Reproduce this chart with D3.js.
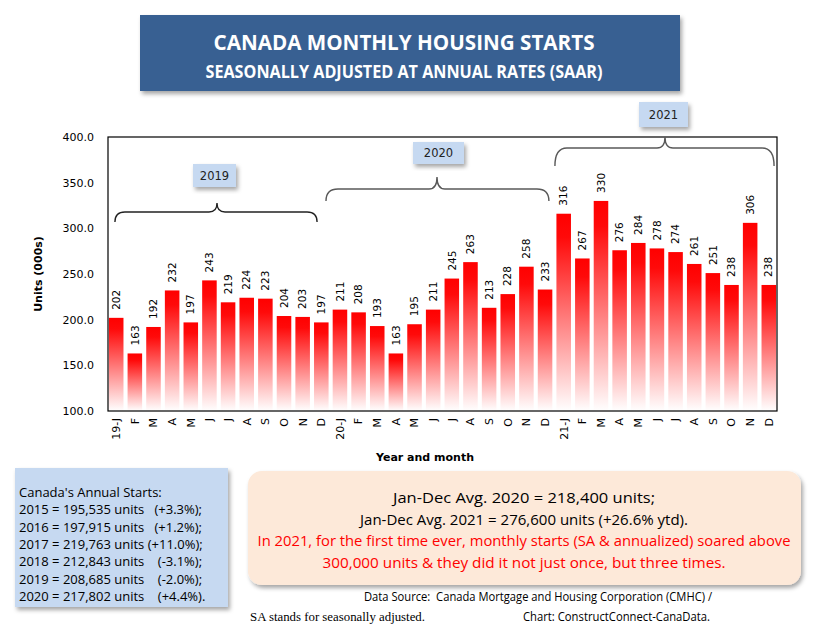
<!DOCTYPE html>
<html><head><meta charset="utf-8">
<script src="https://cdn.jsdelivr.net/npm/d3@7"></script>
<style>body{margin:0;background:#fff}svg{display:block}</style>
</head><body>
<svg id="c" width="819" height="636"></svg>
<script>
const months = ["19-J","F","M","A","M","J","J","A","S","O","N","D",
                "20-J","F","M","A","M","J","J","A","S","O","N","D",
                "21-J","F","M","A","M","J","J","A","S","O","N","D"];
const values = [202,163,192,232,197,243,219,224,223,204,203,197,
                211,208,193,163,195,211,245,263,213,228,258,233,
                316,267,330,276,284,278,274,261,251,238,306,238];
const yTicks = [100,150,200,250,300,350,400];
const years = ["2019","2020","2021"];
const yearFirst = [0,12,24];
const yearLast = [11,23,35];
const titleText = "CANADA MONTHLY HOUSING STARTS";
const subtitleText = "SEASONALLY ADJUSTED AT ANNUAL RATES (SAAR)";
const annualLines = ["Canada's Annual Starts:",
  "2015 = 195,535 units   (+3.3%);",
  "2016 = 197,915 units   (+1.2%);",
  "2017 = 219,763 units (+11.0%);",
  "2018 = 212,843 units    (-3.1%);",
  "2019 = 208,685 units    (-2.0%);",
  "2020 = 217,802 units    (+4.4%)."];
const noteBlack = ["Jan-Dec Avg. 2020 = 218,400 units;",
  "Jan-Dec Avg. 2021 = 276,600 units (+26.6% ytd)."];
const noteRed = ["In 2021, for the first time ever, monthly starts (SA & annualized) soared above",
  "300,000 units & they did it not just once, but three times."];

const svg = d3.select("#c");
const defs = svg.append("defs");
const sh = defs.append("filter").attr("id","sh").attr("x","-10%").attr("y","-10%").attr("width","130%").attr("height","140%");
sh.append("feDropShadow").attr("dx",2).attr("dy",3).attr("stdDeviation",2).attr("flood-color","#000").attr("flood-opacity",0.35);
const g = defs.append("linearGradient").attr("id","bg").attr("x1",0).attr("y1",0).attr("x2",0).attr("y2",1);
g.append("stop").attr("offset","0%").attr("stop-color","#ff0000");
g.append("stop").attr("offset","12%").attr("stop-color","#ff0a0a");
g.append("stop").attr("offset","100%").attr("stop-color","#ffffff");

const L=108,R=777,T=137,B=411;
const x = d3.scaleBand().domain(d3.range(months.length)).range([L,R]).paddingInner(0.22).paddingOuter(0.05);
const y = d3.scaleLinear().domain([100,400]).range([B,T]);
const chartFont = "'DejaVu Sans', Verdana, sans-serif";
const boxFont = "'Open Sans', 'Noto Sans', sans-serif";

// title
svg.append("rect").attr("x",140).attr("y",15).attr("width",540).attr("height",76).attr("fill","#376092").attr("filter","url(#sh)");
svg.append("text").attr("x",404).attr("y",50).attr("text-anchor","middle").attr("fill","#fff")
  .attr("font-family",boxFont).attr("font-weight","bold").attr("font-size",21)
  .attr("textLength",381).attr("lengthAdjust","spacingAndGlyphs").text(titleText);
svg.append("text").attr("x",404).attr("y",78).attr("text-anchor","middle").attr("fill","#fff")
  .attr("font-family",boxFont).attr("font-weight","bold").attr("font-size",17)
  .attr("textLength",397).attr("lengthAdjust","spacingAndGlyphs").text(subtitleText);

// bars
svg.append("g").selectAll("rect").data(values).join("rect")
  .attr("x",(d,i)=>x(i)).attr("y",d=>y(d)).attr("width",x.bandwidth()).attr("height",d=>y(100)-y(d))
  .attr("fill","url(#bg)");

// frame
svg.append("rect").attr("x",L).attr("y",T).attr("width",R-L).attr("height",B-T).attr("fill","none").attr("stroke","#000").attr("stroke-width",1.2);

// y axis
const ya = svg.append("g").attr("transform",`translate(${L},0)`)
  .call(d3.axisLeft(y).tickValues(yTicks).tickFormat(d3.format(".1f")).tickSize(0).tickPadding(14));
ya.select(".domain").remove();
ya.selectAll("text").attr("font-family",chartFont).attr("font-size",11).attr("fill","#000");

// x axis
const xa = svg.append("g").attr("transform",`translate(0,${B})`)
  .call(d3.axisBottom(x).tickFormat(i=>months[i]).tickSize(0));
xa.select(".domain").remove();
xa.selectAll("text").attr("font-family",chartFont).attr("font-size",11).attr("fill","#000")
  .attr("transform","rotate(-90)").attr("text-anchor","end").attr("x",-7).attr("y",0).attr("dy","0.35em");

// bar labels
svg.append("g").selectAll("text").data(values).join("text")
  .attr("transform",(d,i)=>`translate(${x(i)+x.bandwidth()/2},${y(d)-8}) rotate(-90)`)
  .attr("dy","0.35em").attr("font-family",chartFont).attr("font-size",10.5).attr("fill","#000")
  .text(d=>d);

// axis titles
svg.append("text").attr("transform","translate(38,274) rotate(-90)").attr("text-anchor","middle").attr("dy","0.35em")
  .attr("font-family",chartFont).attr("font-size",11).attr("font-weight","bold").text("Units (000s)");
svg.append("text").attr("x",425).attr("y",461).attr("text-anchor","middle")
  .attr("font-family",chartFont).attr("font-size",11).attr("font-weight","bold").text("Year and month");

// braces
const braceLayout = [
  {dl:6, dr:-11.5, tip:217, hy:212, by:222, ty:203, bx:193, bw:43, byTop:164, bh:23},
  {dl:-6.7, dr:-3.4, tip:437, hy:189, by:201, ty:177, bx:413, bw:51, byTop:142, bh:22},
  {dl:-1.5, dr:-2, tip:665, hy:148, by:166, ty:137, bx:639, bw:49, byTop:102, bh:25}
];
years.forEach((yr,k)=>{
  const b = braceLayout[k];
  const x1 = x(yearFirst[k])+b.dl, x2 = x(yearLast[k])+x.bandwidth()+b.dr;
  const r = Math.min(12,(b.by-b.hy));
  const r2 = 8;
  const p = `M${x1},${b.by} Q${x1},${b.hy} ${x1+r},${b.hy} L${b.tip-r2},${b.hy} Q${b.tip},${b.hy} ${b.tip},${b.ty} Q${b.tip},${b.hy} ${b.tip+r2},${b.hy} L${x2-r},${b.hy} Q${x2},${b.hy} ${x2},${b.by}`;
  svg.append("path").attr("d",p).attr("fill","none").attr("stroke",k==0?"#222":"#595959").attr("stroke-width",1.4);
  svg.append("rect").attr("x",b.bx).attr("y",b.byTop).attr("width",b.bw).attr("height",b.bh).attr("fill","#c6d9f1").attr("filter","url(#sh)");
  svg.append("text").attr("x",b.bx+b.bw/2).attr("y",b.byTop+b.bh/2).attr("dy","0.35em").attr("text-anchor","middle")
    .attr("font-family",chartFont).attr("font-size",11.5).attr("fill","#222").text(yr);
});

// annual box
svg.append("rect").attr("x",15).attr("y",468).attr("width",213).attr("height",139).attr("fill","#c6d9f1").attr("filter","url(#sh)");
svg.append("g").selectAll("text").data(annualLines).join("text")
  .attr("x",19).attr("y",(d,i)=>497+i*17.3).attr("font-family",boxFont).attr("font-size",13)
  .style("white-space","pre").attr("fill","#000").text(d=>d);

// note box
svg.append("rect").attr("x",248).attr("y",471).attr("width",553).attr("height",114).attr("rx",14).attr("fill","#fde9d9").attr("filter","url(#sh)");
const noteLens = [262,328,533,403];
noteBlack.concat(noteRed).forEach((t,i)=>{
  svg.append("text").attr("x",524).attr("y",503+i*21.5).attr("text-anchor","middle")
    .attr("font-family",boxFont).attr("font-size",15).attr("fill",i<2?"#000":"#ff0000")
    .attr("textLength",noteLens[i]).attr("lengthAdjust","spacingAndGlyphs").text(t);
});

// sources
svg.append("text").attr("x",364).attr("y",601).attr("font-family",boxFont).attr("font-size",12.5)
  .attr("textLength",348).attr("lengthAdjust","spacingAndGlyphs").style("white-space","pre")
  .text("Data Source:  Canada Mortgage and Housing Corporation (CMHC) /");
svg.append("text").attr("x",250).attr("y",621).attr("font-family","'Liberation Serif', serif").attr("font-size",13)
  .attr("textLength",175).attr("lengthAdjust","spacingAndGlyphs").text("SA stands for seasonally adjusted.");
svg.append("text").attr("x",523).attr("y",621).attr("font-family",boxFont).attr("font-size",12.5)
  .attr("textLength",187).attr("lengthAdjust","spacingAndGlyphs").text("Chart: ConstructConnect-CanaData.");
</script>
</body></html>
